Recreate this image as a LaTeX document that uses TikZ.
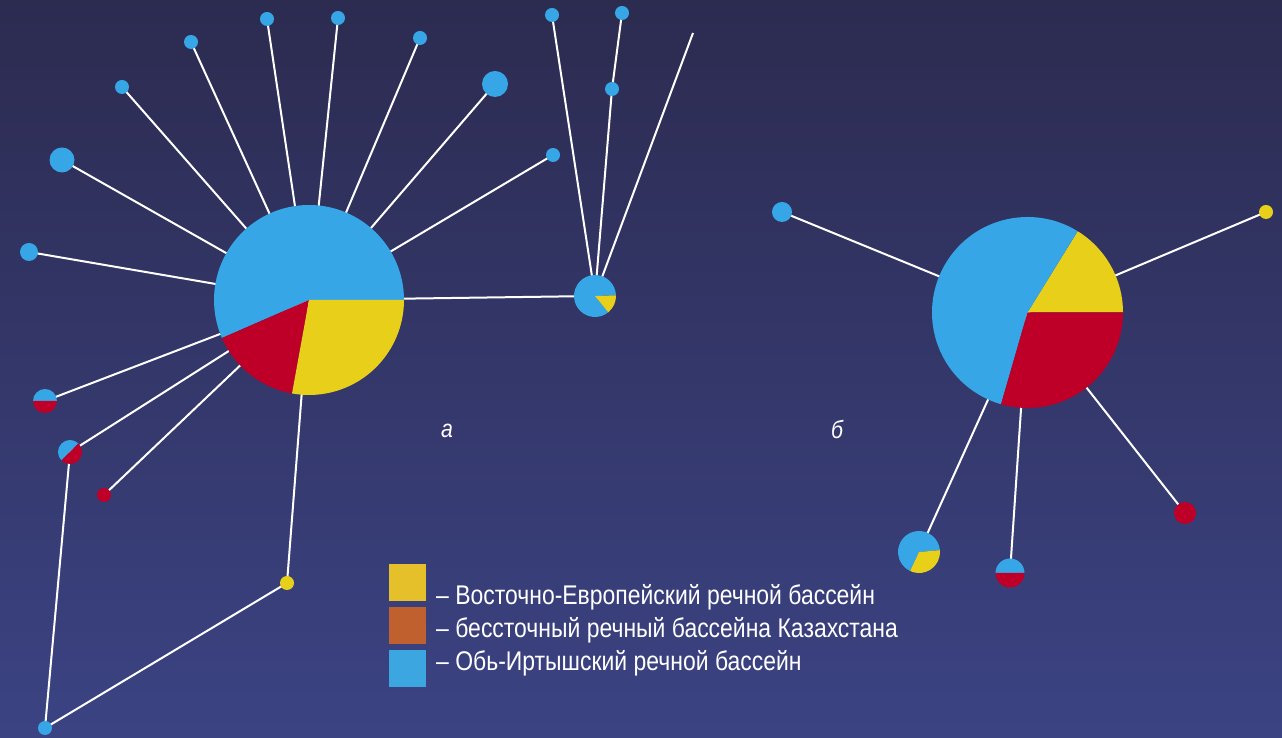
\documentclass[tikz,border=0pt]{standalone}
\usepackage{fontspec}
\setmainfont[FakeStretch=0.85]{Liberation Sans}
\usetikzlibrary{backgrounds}
\definecolor{bgtop}{RGB}{44,43,80}
\definecolor{bgbot}{RGB}{59,67,131}
\definecolor{pblue}{RGB}{54,166,230}
\definecolor{pyellow}{RGB}{232,208,26}
\definecolor{pred}{RGB}{190,0,40}
\definecolor{lyellow}{RGB}{230,192,42}
\definecolor{lbrown}{RGB}{192,96,47}
\definecolor{lblue}{RGB}{59,166,224}
\pgfdeclarelayer{bglayer}
\pgfdeclarelayer{linelayer}
\pgfsetlayers{bglayer,linelayer,main}
\newcommand\mypie[5]{\fill[#5] (#1.center) -- ++(#3:#2) arc[start angle=#3, end angle=#4, radius=#2] -- cycle;}
\tikzset{
  dot/.style={circle, inner sep=0pt, minimum size=#1, draw=none},
  bdot/.style={dot=#1, fill=pblue},
  ydot/.style={dot=#1, fill=pyellow},
  rdot/.style={dot=#1, fill=pred},
  pienode/.style={circle, inner sep=0pt, minimum size=#1, draw=none},
  link/.style={draw=white, line width=2pt},
  legbox/.style={inner sep=0pt, minimum size=37pt, draw=none},
  legtext/.style={anchor=base west, text=white, font=\fontsize{27}{30}\selectfont, inner sep=0pt},
  lbl/.style={text=white, font=\fontsize{25}{28}\selectfont\itshape, inner sep=0pt}
}
\begin{document}
\begin{tikzpicture}[x=1pt,y=1pt]
\begin{pgfonlayer}{bglayer}
\shade[top color=bgtop, bottom color=bgbot] (0,0) rectangle (1282,738);
\end{pgfonlayer}
\useasboundingbox (0,0) rectangle (1282,738);
% pies (named)
\node[pienode=190pt] (A) at (309,438) {};
\node[pienode=42pt] (C) at (595,442) {};
\node[pienode=191pt] (B) at (1027.5,425.5) {};
\node[pienode=24pt] (n10) at (45,337) {};
\node[pienode=24pt] (n11) at (70,286) {};
\node[pienode=42pt] (b3) at (919,186) {};
\node[pienode=29pt] (b4) at (1010,165) {};
% single colour dots
\node[bdot=14pt] (n1) at (122,651) {};
\node[bdot=14pt] (n2) at (191,696) {};
\node[bdot=14pt] (n3) at (267,719) {};
\node[bdot=14pt] (n4) at (338,720) {};
\node[bdot=14pt] (n5) at (420,700) {};
\node[bdot=26pt] (n6) at (495,654) {};
\node[bdot=25pt] (n7) at (62,578) {};
\node[bdot=14pt] (n8) at (553,583) {};
\node[bdot=18pt] (n9) at (29,486) {};
\node[rdot=14pt] (n12) at (104,243) {};
\node[ydot=14pt] (n13) at (287,155) {};
\node[bdot=14pt] (n14) at (45,10) {};
\node[bdot=14pt] (c1) at (552,723) {};
\node[bdot=14pt] (c2) at (612,649) {};
\node[bdot=14pt] (c3) at (622,725) {};
\coordinate (cfree) at (693,705);
\node[bdot=20pt] (b1) at (782,526) {};
\node[ydot=14pt] (b2) at (1266,526) {};
\node[rdot=22pt] (b5) at (1185,225) {};
% pie slices
\mypie{A}{95pt}{0}{203.6}{pblue}
\mypie{A}{95pt}{203.6}{259.7}{pred}
\mypie{A}{95pt}{259.7}{360}{pyellow}
\mypie{C}{21pt}{2}{309}{pblue}
\mypie{C}{21pt}{-51}{2}{pyellow}
\mypie{B}{95.5pt}{0}{58.3}{pyellow}
\mypie{B}{95.5pt}{58.3}{253.9}{pblue}
\mypie{B}{95.5pt}{253.9}{360}{pred}
\mypie{n10}{12pt}{0}{180}{pblue}
\mypie{n10}{12pt}{180}{360}{pred}
\mypie{n11}{12pt}{45}{225}{pblue}
\mypie{n11}{12pt}{225}{405}{pred}
\mypie{b3}{21pt}{5}{245}{pblue}
\mypie{b3}{21pt}{-115}{5}{pyellow}
\mypie{b4}{14.5pt}{0}{180}{pblue}
\mypie{b4}{14.5pt}{180}{360}{pred}
% connectors
\begin{pgfonlayer}{linelayer}
\foreach \n in {n1,n2,n3,n4,n5,n6,n7,n8,n9,n10,n11,n12,n13,C}
  \draw[link] (A.center) -- (\n.center);
\draw[link] (n11.center) -- (n14.center);
\draw[link] (n13.center) -- (n14.center);
\draw[link] (C.center) -- (c1.center);
\draw[link] (C.center) -- (c2.center) -- (c3.center);
\draw[link] (C.center) -- (cfree);
\foreach \n in {b1,b2,b3,b4,b5}
  \draw[link] (B.center) -- (\n.center);
\end{pgfonlayer}
% labels
\node[lbl] (la) at (447,307) {а};
\node[lbl] (lb) at (837,309) {б};
% legend
\node[legbox, fill=lyellow, anchor=north west] (ly) at (389,174) {};
\node[legbox, fill=lbrown, anchor=north west] (lr) at (389,131) {};
\node[legbox, fill=lblue, anchor=north west] (lbb) at (389,88) {};
\node[legtext] (t1) at (436,133) {– Восточно-Европейский речной бассейн};
\node[legtext] (t2) at (436,100) {– бессточный речный бассейна Казахстана};
\node[legtext] (t3) at (436,67) {– Обь-Иртышский речной бассейн};
\end{tikzpicture}
\end{document}
